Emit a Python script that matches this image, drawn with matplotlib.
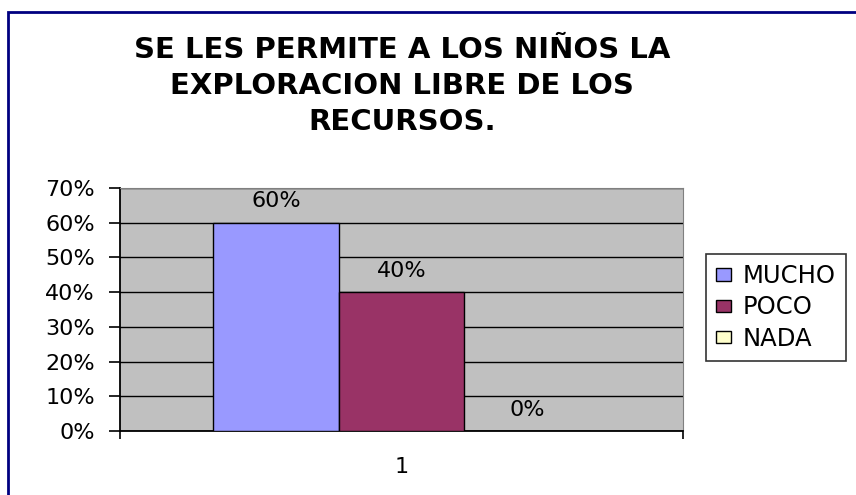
import matplotlib.pyplot as plt
from matplotlib.patches import Rectangle

categorias = ['MUCHO', 'POCO', 'NADA']
valores = [0.60, 0.40, 0.00]
colores = ['#9999FF', '#993366', '#FFFFCC']
etiquetas = ['60%', '40%', '0%']
ticks_y = [0, 0.1, 0.2, 0.3, 0.4, 0.5, 0.6, 0.7]
titulo = 'SE LES PERMITE A LOS NIÑOS LA\nEXPLORACION LIBRE DE LOS\nRECURSOS.'

plt.rcParams['font.family'] = ['DejaVu Sans']

fig = plt.figure(figsize=(8.56, 4.95), dpi=100)
ax = fig.add_axes([120/856, 1 - 431/495, 563/856, 243/495])
ax.set_facecolor('#C0C0C0')

# borde exterior del grafico
fig.patches.append(Rectangle((8/856, -0.05), 1.0, 1 - 12/495 + 0.05,
                             transform=fig.transFigure, fill=False,
                             edgecolor='#000080', linewidth=2))

ancho = 0.223
for i, (cat, val, col) in enumerate(zip(categorias, valores, colores)):
    x = 1 + (i - 1) * ancho
    ax.bar(x, val, width=ancho, color=col, edgecolor='black', linewidth=1,
           label=cat, zorder=3)
    ax.text(x, val + 0.033, etiquetas[i], ha='center', va='bottom',
            fontsize=16, zorder=4)

ax.set_xlim(0.5, 1.5)
ax.set_ylim(0, 0.7)
ax.set_yticks(ticks_y)
ax.set_yticklabels(['%d%%' % round(t * 100) for t in ticks_y], fontsize=16)
ax.yaxis.grid(True, color='black', linewidth=1, zorder=1)
ax.set_axisbelow(True)
ax.tick_params(axis='y', direction='out', length=8, width=1.2, pad=10)

ax.set_xticks([0.5, 1.5])
ax.set_xticklabels([])
ax.set_xticks([1], minor=True)
ax.set_xticklabels(['1'], minor=True, fontsize=16)
ax.tick_params(axis='x', which='major', direction='out', length=6, width=1.2)
ax.tick_params(axis='x', which='minor', length=0, pad=19)

for lado in ['top', 'right']:
    ax.spines[lado].set_color('#808080')
for lado in ['left', 'bottom']:
    ax.spines[lado].set_color('black')
    ax.spines[lado].set_linewidth(1.3)

fig.text(402/856, 1 - 86/495, titulo, ha='center', va='center',
         fontsize=21, fontweight='bold', linespacing=1.38)

leg = ax.legend(loc='upper left', bbox_to_anchor=(706/856, 1 - 254/495),
                bbox_transform=fig.transFigure, fontsize=17.5, frameon=True,
                fancybox=False, edgecolor='black', handlelength=0.6,
                handleheight=0.42, handletextpad=0.5, borderpad=0.42,
                labelspacing=0.3, borderaxespad=0)
leg.get_frame().set_linewidth(1.2)

fig.savefig('out.png', dpi=100, facecolor='white')
